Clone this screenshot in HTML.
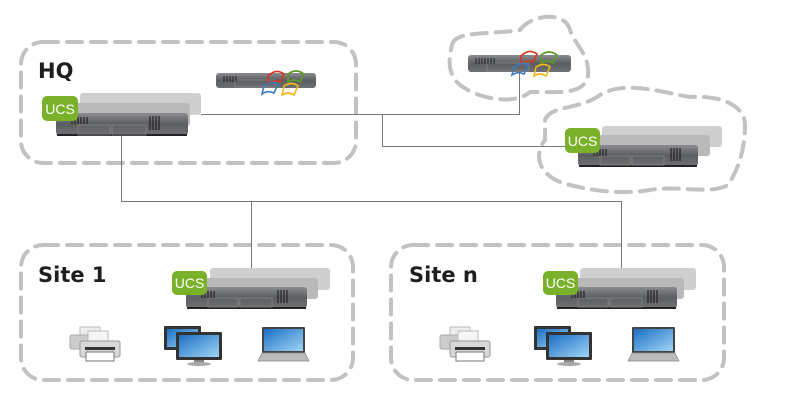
<!DOCTYPE html>
<html><head><meta charset="utf-8"><style>
html,body{margin:0;padding:0;background:#fff;}
svg{display:block;font-family:"Liberation Sans","DejaVu Sans",sans-serif;}
</style></head><body>
<svg width="789" height="411" viewBox="0 0 789 411" xmlns="http://www.w3.org/2000/svg">
<defs>
<linearGradient id="srv" x1="0" y1="0" x2="0" y2="1">
<stop offset="0" stop-color="#8a8c8f"/><stop offset="0.5" stop-color="#5c5e61"/><stop offset="1" stop-color="#6e7073"/></linearGradient>
<linearGradient id="scr" x1="0" y1="0" x2="1" y2="1">
<stop offset="0" stop-color="#1c6fc4"/><stop offset="1" stop-color="#9fd4f5"/></linearGradient>
</defs>
<g fill="none" stroke="#c2c2c2" stroke-width="4" stroke-dasharray="15 9" stroke-linecap="round">
<rect x="21" y="42" width="335" height="121" rx="22"/>
<rect x="21" y="245" width="332" height="135" rx="22"/>
<rect x="391" y="245" width="333" height="135" rx="22"/>
<path d="M452,45 C455,30 490,35 520,30 C530,15 565,10 570,30 C575,45 590,55 588,75 C585,95 560,92 530,92 C515,105 480,100 460,85 C448,75 448,60 452,45 Z"/>
<path d="M545,120 C550,105 580,110 600,95 C625,80 660,92 690,97 C720,95 745,105 745,125 C745,150 738,170 728,185 C710,195 680,185 650,190 C620,195 590,190 570,185 C545,180 530,160 545,140 Z"/>
</g>
<g fill="none" stroke="#777" stroke-width="1">
<path d="M201,114.5 H382.5 V146.5 H565"/>
<path d="M382,114.5 H519.5 V72"/>
<path d="M121.5,135 V201.5 H621.5 V268"/>
<path d="M251.5,201 V268"/>
</g>
<g font-weight="bold" fill="#1e1e1e" font-size="21" font-family="'DejaVu Sans',sans-serif">
<text x="38" y="78">HQ</text>
<text x="38" y="282">Site 1</text>
<text x="409" y="282">Site n</text>
</g>

<g>
<rect x="80" y="93" width="121" height="22" rx="3" fill="#cfcfcf"/>
<rect x="70" y="103" width="120" height="23" rx="3" fill="#b9b9b9"/>
<rect x="56" y="113" width="132" height="22" rx="3" fill="url(#srv)"/>
<rect x="57" y="134" width="130" height="2" fill="#222"/>
<rect x="78" y="125" width="32" height="10" fill="none" stroke="#888" stroke-width="0.8"/>
<rect x="112" y="125" width="34" height="10" fill="none" stroke="#888" stroke-width="0.8"/>
<path d="M72,117v7M75,117v7M78,117v7M81,117v7M84,117v7M87,117v7M150,116v14M153,116v14M156,116v14M159,116v14" stroke="#222" stroke-width="1.2"/>
<rect x="42" y="96" width="36" height="25" rx="5" fill="#7ab12a"/>
<text x="60" y="114" font-size="14" fill="#fff" text-anchor="middle">UCS</text>
</g>
<g>
<rect x="210" y="268" width="120" height="22" rx="3" fill="#cfcfcf"/>
<rect x="199" y="278" width="119" height="21" rx="3" fill="#b9b9b9"/>
<rect x="186" y="287" width="121" height="21" rx="3" fill="url(#srv)"/>
<rect x="187" y="307" width="119" height="2" fill="#222"/>
<rect x="208" y="298" width="30" height="9" fill="none" stroke="#888" stroke-width="0.8"/>
<rect x="240" y="298" width="32" height="9" fill="none" stroke="#888" stroke-width="0.8"/>
<path d="M202,291v7M205,291v7M208,291v7M211,291v7M214,291v7M278,290v13M281,290v13M284,290v13M287,290v13" stroke="#222" stroke-width="1.2"/>
<rect x="172" y="271" width="35" height="24" rx="5" fill="#7ab12a"/>
<text x="189.5" y="288" font-size="14" fill="#fff" text-anchor="middle">UCS</text>
</g>
<g>
<rect x="580" y="268" width="116" height="22" rx="3" fill="#cfcfcf"/>
<rect x="569" y="278" width="115" height="21" rx="3" fill="#b9b9b9"/>
<rect x="556" y="287" width="121" height="21" rx="3" fill="url(#srv)"/>
<rect x="557" y="307" width="119" height="2" fill="#222"/>
<rect x="578" y="298" width="30" height="9" fill="none" stroke="#888" stroke-width="0.8"/>
<rect x="610" y="298" width="32" height="9" fill="none" stroke="#888" stroke-width="0.8"/>
<path d="M572,291v7M575,291v7M578,291v7M581,291v7M584,291v7M648,290v13M651,290v13M654,290v13M657,290v13" stroke="#222" stroke-width="1.2"/>
<rect x="543" y="271" width="35" height="24" rx="5" fill="#7ab12a"/>
<text x="560.5" y="288" font-size="14" fill="#fff" text-anchor="middle">UCS</text>
</g>
<g>
<rect x="602" y="126" width="120" height="21" rx="3" fill="#cfcfcf"/>
<rect x="590" y="135" width="120" height="21" rx="3" fill="#b9b9b9"/>
<rect x="578" y="145" width="120" height="21" rx="3" fill="url(#srv)"/>
<rect x="579" y="165" width="118" height="2" fill="#222"/>
<rect x="600" y="156" width="30" height="9" fill="none" stroke="#888" stroke-width="0.8"/>
<rect x="632" y="156" width="32" height="9" fill="none" stroke="#888" stroke-width="0.8"/>
<path d="M594,149v7M597,149v7M600,149v7M603,149v7M606,149v7M671,148v13M674,148v13M677,148v13M680,148v13" stroke="#222" stroke-width="1.2"/>
<rect x="565" y="128" width="35" height="25" rx="5" fill="#7ab12a"/>
<text x="582.5" y="146" font-size="14" fill="#fff" text-anchor="middle">UCS</text>
</g>

<g>
<rect x="216" y="73" width="100" height="15" rx="3" fill="url(#srv)"/>
<rect x="235" y="80" width="40" height="7" fill="none" stroke="#888" stroke-width="0.7"/>
<path d="M224,76v6M227,76v6M230,76v6M233,76v6M236,76v6" stroke="#222"/>
<path d="M268,76 q8,-8 16,-2 l-4,8 q-6,-3 -12,2z" fill="none" stroke="#d9361c" stroke-width="1.6"/>
<path d="M288,74 q8,-6 16,0 l-4,8 q-6,-4 -12,0z" fill="none" stroke="#5c9a28" stroke-width="1.6"/>
<path d="M264,86 q8,-6 14,-2 l-4,9 q-6,-3 -12,1z" fill="none" stroke="#3a7bc0" stroke-width="1.6"/>
<path d="M284,86 q8,-5 14,0 l-4,9 q-6,-4 -12,0z" fill="none" stroke="#f0b81c" stroke-width="1.6"/>
</g>
<g>
<rect x="468" y="55" width="103" height="17" rx="3" fill="url(#srv)"/>
<rect x="487" y="63" width="42" height="8" fill="none" stroke="#888" stroke-width="0.7"/>
<path d="M476,58v6M479,58v6M482,58v6M485,58v6M488,58v6M491,58v6M494,58v6" stroke="#222"/>
<path d="M521,56 q8,-8 16,-2 l-4,8 q-6,-3 -12,2z" fill="none" stroke="#d9361c" stroke-width="1.6"/>
<path d="M541,55 q8,-6 16,0 l-4,8 q-6,-4 -12,0z" fill="none" stroke="#5c9a28" stroke-width="1.6"/>
<path d="M514,67 q8,-6 14,-2 l-4,9 q-6,-3 -12,1z" fill="none" stroke="#3a7bc0" stroke-width="1.6"/>
<path d="M536,67 q8,-5 14,0 l-4,9 q-6,-4 -12,0z" fill="none" stroke="#f0b81c" stroke-width="1.6"/>
</g>

<g id="dev">
<rect x="80" y="327" width="20" height="14" fill="#eee" stroke="#bbb"/>
<rect x="70" y="335" width="36" height="14" rx="2" fill="#ccc" stroke="#aaa"/>
<rect x="88" y="331" width="20" height="14" fill="#f5f5f5" stroke="#bbb"/>
<rect x="80" y="341" width="40" height="16" rx="2" fill="#d8d8d8" stroke="#999"/>
<rect x="85" y="347" width="30" height="3" fill="#333"/>
<rect x="86" y="352" width="28" height="9" fill="#fff" stroke="#777"/>
<rect x="164" y="326" width="37" height="24" rx="1" fill="#333"/>
<rect x="167" y="329" width="31" height="18" fill="url(#scr)"/>
<rect x="176" y="332" width="46" height="28" rx="1" fill="#333"/>
<rect x="179" y="335" width="40" height="22" fill="url(#scr)"/>
<rect x="194" y="360" width="10" height="3" fill="#888"/>
<ellipse cx="199" cy="364" rx="12" ry="2" fill="#aaa"/>
<rect x="262" y="327" width="43" height="26" rx="1" fill="#444"/>
<rect x="264" y="329" width="39" height="22" fill="url(#scr)"/>
<path d="M262,353 H305 L309,361 H258 Z" fill="#bbb" stroke="#888" stroke-width="0.7"/>
</g>
<use href="#dev" transform="translate(370,0)"/>
</svg>
</body></html>
